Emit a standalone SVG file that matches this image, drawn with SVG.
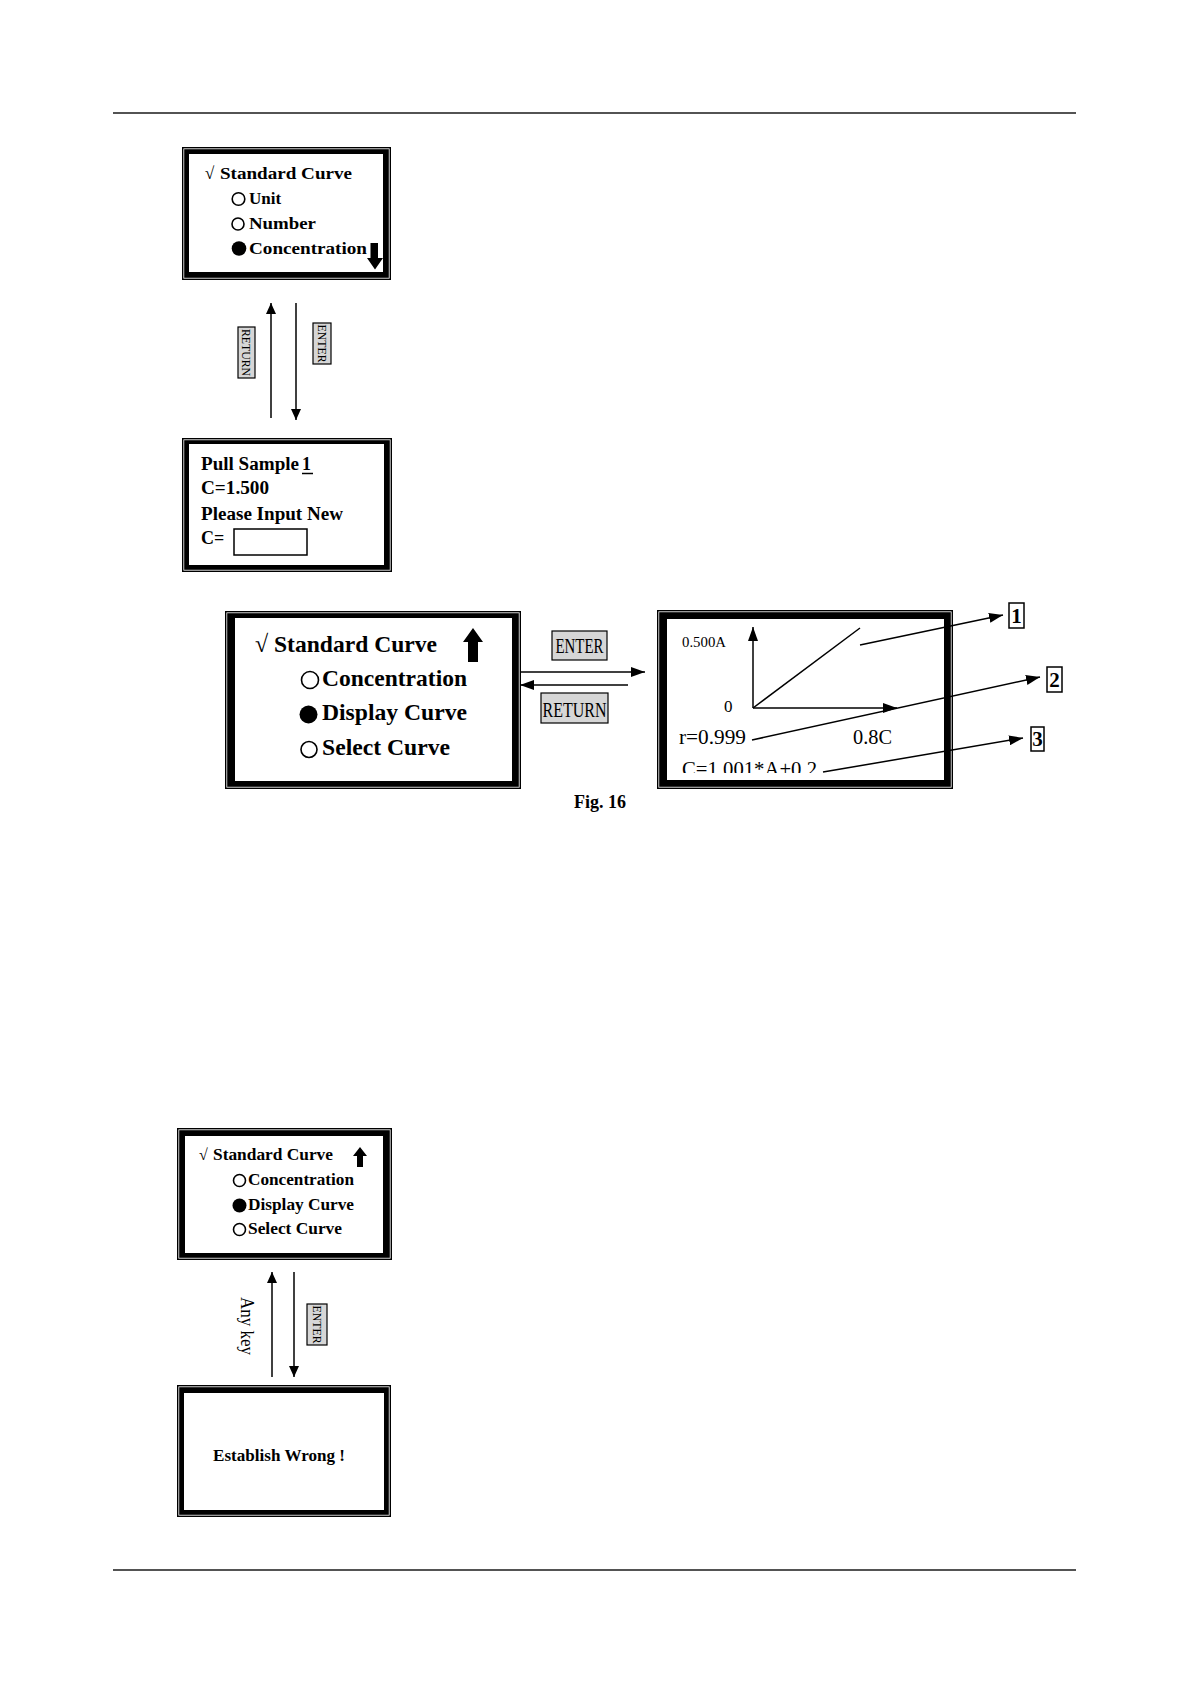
<svg xmlns="http://www.w3.org/2000/svg" width="1191" height="1684" viewBox="0 0 1191 1684">
<style>
.frame{fill:#000;fill-rule:evenodd}
.gap{fill:none;stroke:#fff;stroke-width:0.8}
.mb{font-family:"Liberation Serif","Times New Roman",serif;font-weight:bold;fill:#000}
.mn{font-family:"Liberation Serif","Times New Roman",serif;fill:#000}
.lbl{fill:#d6d6d6;stroke:#000;stroke-width:1.2}
.ln{stroke:#000;stroke-width:1.5;fill:none}
.rule{stroke:#1a1a1a;stroke-width:1.5}
.ring{fill:none;stroke:#000;stroke-width:1.6}
.dot{fill:#000}
.box{fill:#fff;stroke:#000;stroke-width:1.5}
</style>
<defs>
<marker id="ah" viewBox="0 0 14 10" refX="14" refY="5" markerWidth="14" markerHeight="10" markerUnits="userSpaceOnUse" orient="auto"><path d="M0,0 L14,5 L0,10 Z" fill="#000"/></marker>
<marker id="ahs" viewBox="0 0 11 10" refX="11" refY="5" markerWidth="11" markerHeight="10" markerUnits="userSpaceOnUse" orient="auto"><path d="M0,0 L11,5 L0,10 Z" fill="#000"/></marker>
<clipPath id="clipEq"><rect x="670" y="740" width="200" height="33"/></clipPath>
</defs>

<line class="rule" x1="113" y1="113" x2="1076" y2="113"/>
<line class="rule" x1="113" y1="1570" x2="1076" y2="1570"/>

<g id="menu-unit">
<path class="frame" d="M182 147 H391 V280 H182 Z M189 154 V272 H383 V154 Z"/>
<rect class="gap" x="183.8" y="148.8" width="205.4" height="129.4"/>
<text class="mb" x="205" y="179" font-size="17">√</text>
<text class="mb" x="220" y="179" font-size="17" textLength="132" lengthAdjust="spacingAndGlyphs">Standard Curve</text>
<circle class="ring" cx="238.5" cy="199" r="6.3"/>
<text class="mb" x="249" y="204" font-size="17">Unit</text>
<circle class="ring" cx="238" cy="224" r="6"/>
<text class="mb" x="249" y="229" font-size="17" textLength="67" lengthAdjust="spacingAndGlyphs">Number</text>
<circle class="dot" cx="239" cy="248.5" r="7.3"/>
<text class="mb" x="249" y="254" font-size="17" textLength="118" lengthAdjust="spacingAndGlyphs">Concentration</text>
<path d="M370.5 243 H378 V258 H383 L375 269.5 L367 258 H370.5 Z" fill="#000"/>
</g>

<g id="pull-sample">
<path class="frame" d="M182 438 H392 V572 H182 Z M189 444 V565 H384 V444 Z"/>
<rect class="gap" x="183.8" y="439.8" width="206.4" height="130.4"/>
<text class="mb" x="201" y="470" font-size="18" textLength="98" lengthAdjust="spacingAndGlyphs">Pull Sample</text>
<text class="mb" x="302" y="470" font-size="18">1</text>
<line x1="302" y1="473.5" x2="313" y2="473.5" stroke="#000" stroke-width="1.5"/>
<text class="mb" x="201" y="494" font-size="18" textLength="68" lengthAdjust="spacingAndGlyphs">C=1.500</text>
<text class="mb" x="201" y="520" font-size="18" textLength="142" lengthAdjust="spacingAndGlyphs">Please Input New</text>
<text class="mb" x="201" y="544" font-size="18">C=</text>
<rect class="box" x="234" y="529" width="73" height="26"/>
</g>

<g id="fig16-menu">
<path class="frame" d="M225 611 H521 V789 H225 Z M235 618 V781 H512 V618 Z"/>
<rect class="gap" x="226.8" y="612.8" width="292.4" height="174.4"/>
<text class="mb" x="255" y="652" font-size="24">√</text>
<text class="mb" x="274" y="652" font-size="24" textLength="163" lengthAdjust="spacingAndGlyphs">Standard Curve</text>
<path d="M468 662 V642 H463 L473 628 L483 642 H478 V662 Z" fill="#000"/>
<circle class="ring" cx="310" cy="680" r="8.5" stroke-width="2"/>
<text class="mb" x="322" y="686" font-size="24" textLength="145" lengthAdjust="spacingAndGlyphs">Concentration</text>
<circle class="dot" cx="308.5" cy="714.5" r="9"/>
<text class="mb" x="322" y="720" font-size="24" textLength="145" lengthAdjust="spacingAndGlyphs">Display Curve</text>
<circle class="ring" cx="309" cy="749.5" r="8" stroke-width="2"/>
<text class="mb" x="322" y="755" font-size="24" textLength="128" lengthAdjust="spacingAndGlyphs">Select Curve</text>
</g>

<g id="fig16-curve">
<path class="frame" d="M657 610 H953 V789 H657 Z M667 619 V780 H944 V619 Z"/>
<rect class="gap" x="658.8" y="611.8" width="292.4" height="175.4"/>
<text class="mn" x="682" y="647" font-size="14" textLength="44" lengthAdjust="spacingAndGlyphs">0.500A</text>
<line class="ln" x1="753" y1="708" x2="753" y2="627" marker-end="url(#ah)" stroke-width="2"/>
<line class="ln" x1="753" y1="708" x2="897" y2="708" marker-end="url(#ah)" stroke-width="2"/>
<line class="ln" x1="753" y1="708" x2="860" y2="628" stroke-width="2"/>
<text class="mn" x="724" y="712" font-size="17">0</text>
<text class="mn" x="679" y="744" font-size="20" textLength="67" lengthAdjust="spacingAndGlyphs">r=0.999</text>
<text class="mn" x="853" y="744" font-size="20" textLength="39" lengthAdjust="spacingAndGlyphs">0.8C</text>
<text class="mn" x="682" y="776" font-size="20" textLength="135" lengthAdjust="spacingAndGlyphs" clip-path="url(#clipEq)">C=1.001*A+0.2</text>
</g>

<g id="callout-1">
<rect class="box" x="1009" y="603" width="15" height="25"/>
<text class="mb" x="1016.5" y="623" font-size="21" text-anchor="middle">1</text>
</g>
<g id="callout-2">
<rect class="box" x="1047" y="667" width="15" height="25"/>
<text class="mb" x="1054.5" y="687" font-size="21" text-anchor="middle">2</text>
</g>
<g id="callout-3">
<rect class="box" x="1031" y="727" width="13" height="24"/>
<text class="mb" x="1037.5" y="746" font-size="21" text-anchor="middle">3</text>
</g>

<g id="fig-caption">
<text class="mb" x="574" y="808" font-size="18" textLength="52" lengthAdjust="spacingAndGlyphs">Fig. 16</text>
</g>

<g id="menu-lower">
<path class="frame" d="M177 1128 H392 V1260 H177 Z M185 1136 V1253 H383 V1136 Z"/>
<rect class="gap" x="178.8" y="1129.8" width="211.4" height="128.4"/>
<text class="mb" x="199" y="1160" font-size="16">√</text>
<text class="mb" x="213" y="1160" font-size="16" textLength="120" lengthAdjust="spacingAndGlyphs">Standard Curve</text>
<path d="M357 1167 V1156 H353 L360 1147 L367 1156 H363 V1167 Z" fill="#000"/>
<circle class="ring" cx="239.5" cy="1180.5" r="6"/>
<text class="mb" x="248" y="1185" font-size="16" textLength="106" lengthAdjust="spacingAndGlyphs">Concentration</text>
<circle class="dot" cx="239.5" cy="1205.5" r="7"/>
<text class="mb" x="248" y="1210" font-size="16" textLength="106" lengthAdjust="spacingAndGlyphs">Display Curve</text>
<circle class="ring" cx="239.5" cy="1229.5" r="6"/>
<text class="mb" x="248" y="1234" font-size="16" textLength="94" lengthAdjust="spacingAndGlyphs">Select Curve</text>
</g>

<g id="establish-wrong">
<path class="frame" d="M177 1385 H391 V1517 H177 Z M184 1393 V1510 H384 V1393 Z"/>
<rect class="gap" x="178.8" y="1386.8" width="210.4" height="128.4"/>
<text class="mb" x="213" y="1461" font-size="17" textLength="132" lengthAdjust="spacingAndGlyphs">Establish Wrong !</text>
</g>

<g id="connectors">
<line class="ln" x1="271" y1="418" x2="271" y2="303" marker-end="url(#ahs)"/>
<line class="ln" x1="296" y1="303" x2="296" y2="420" marker-end="url(#ahs)"/>
<rect class="lbl" x="238" y="327" width="17" height="51"/>
<text class="mn" font-size="13" text-anchor="middle" transform="translate(242,352.5) rotate(90)" textLength="47" lengthAdjust="spacingAndGlyphs">RETURN</text>
<rect class="lbl" x="313" y="323" width="18" height="41"/>
<text class="mn" font-size="13" text-anchor="middle" transform="translate(317.5,343.5) rotate(90)" textLength="38" lengthAdjust="spacingAndGlyphs">ENTER</text>

<line class="ln" x1="521" y1="672" x2="645" y2="672" marker-end="url(#ah)" stroke-width="2"/>
<line class="ln" x1="628" y1="685" x2="520" y2="685" marker-end="url(#ah)" stroke-width="2"/>
<rect class="lbl" x="552" y="631" width="55" height="29"/>
<text class="mn" x="579.5" y="653" font-size="20" text-anchor="middle" textLength="48" lengthAdjust="spacingAndGlyphs">ENTER</text>
<rect class="lbl" x="541" y="693" width="67" height="30"/>
<text class="mn" x="574.5" y="717" font-size="20" text-anchor="middle" textLength="64" lengthAdjust="spacingAndGlyphs">RETURN</text>

<line class="ln" x1="860" y1="645" x2="1003" y2="615" marker-end="url(#ah)" stroke-width="2"/>
<line class="ln" x1="752" y1="740" x2="1040" y2="677" marker-end="url(#ah)" stroke-width="2"/>
<line class="ln" x1="823" y1="772" x2="1023" y2="738" marker-end="url(#ah)" stroke-width="2"/>

<line class="ln" x1="272" y1="1377" x2="272" y2="1272" marker-end="url(#ahs)"/>
<line class="ln" x1="294" y1="1272" x2="294" y2="1377" marker-end="url(#ahs)"/>
<text class="mn" font-size="18" text-anchor="middle" transform="translate(241,1326) rotate(90)" textLength="58" lengthAdjust="spacingAndGlyphs">Any key</text>
<rect class="lbl" x="307" y="1304" width="20" height="41"/>
<text class="mn" font-size="13" text-anchor="middle" transform="translate(312.5,1324.5) rotate(90)" textLength="38" lengthAdjust="spacingAndGlyphs">ENTER</text>
</g>
</svg>
